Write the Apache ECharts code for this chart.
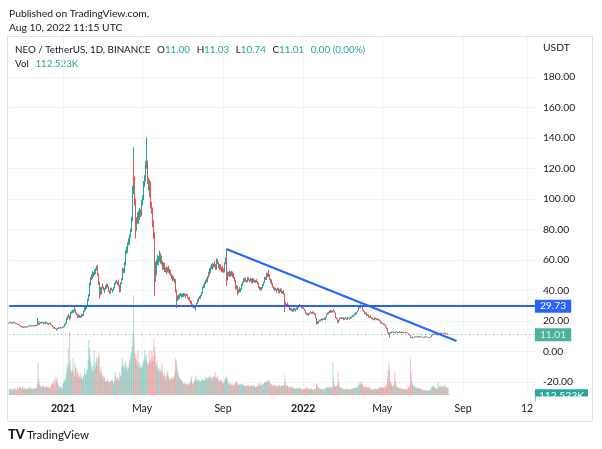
<!DOCTYPE html>
<html><head><meta charset="utf-8">
<script src="https://cdn.jsdelivr.net/npm/echarts/dist/echarts.min.js"></script>
<style>html,body{margin:0;padding:0;background:#fff}#c{width:602px;height:449px}</style>
</head><body><div id="c"></div>
<script>
// ---------- data (daily NEO/USDT, Binance) ----------
const startDate = '2020-10-11';
const axisDays = 800;               // categories on the time axis (data + empty right margin)
const firstOpen = 18.5;
const closes = [
// 2020 Oct 11-31
18.7,19.1,18.9,19.3,18.8,18.4,18.6,18.9,19.2,18.7,18.3,18.5,18.1,17.6,17.9,17.4,16.9,16.6,16.2,16.5,15.9,
// Nov
15.8,16.1,15.9,16.3,16.0,15.7,16.2,16.5,16.4,16.9,16.7,17.0,16.6,16.8,17.1,16.9,16.5,16.8,17.2,17.0,16.7,17.3,18.1,19.6,18.4,17.9,18.6,19.0,18.7,19.2,
// Dec
19.1,18.5,18.8,18.2,18.9,19.3,18.6,18.0,18.4,17.9,18.3,18.7,18.2,17.6,17.1,16.4,16.0,15.3,15.7,15.1,14.8,14.3,14.6,15.2,15.6,15.1,15.5,15.9,15.4,15.8,15.6,
// 2021 Jan
15.9,16.4,17.2,17.8,18.6,20.1,21.4,22.6,24.1,23.2,21.8,23.9,25.2,26.1,25.6,26.8,25.9,26.5,27.4,26.2,25.1,24.3,23.1,22.4,23.6,22.8,23.3,22.5,23.8,24.2,23.5,
// Feb
24.6,26.3,28.9,27.5,28.2,29.8,31.2,33.6,36.8,39.4,44.1,47.6,49.3,48.1,51.2,49.8,50.6,52.4,51.5,53.8,55.1,54.2,50.3,44.6,38.2,41.5,39.7,37.9,
// Mar
41.8,43.5,42.1,40.6,39.2,41.0,42.7,41.9,43.8,42.4,40.9,39.6,38.4,39.8,41.2,40.5,39.1,40.3,41.7,42.5,44.2,45.6,46.3,45.1,44.0,46.5,43.2,39.4,41.8,44.6,47.3,
// Apr
50.2,53.6,52.1,55.4,57.2,62.5,64.8,67.1,66.2,70.4,72.8,71.5,75.6,79.3,83.4,86.1,105.6,121.0,112.4,98.7,84.5,80.2,86.3,88.9,84.7,90.5,87.6,92.3,89.4,94.8,
// May
97.5,100.8,104.6,109.3,113.2,117.5,121.8,123.4,118.2,112.6,108.4,104.9,110.3,101.6,96.2,92.8,88.1,84.3,76.5,62.8,47.2,55.6,52.4,58.9,61.3,57.8,60.5,63.7,59.4,61.8,58.2,
// Jun
56.4,54.1,57.3,55.6,52.8,53.9,51.4,54.7,52.2,55.1,53.5,51.0,52.6,50.2,48.4,46.7,48.9,47.1,45.6,46.8,39.5,31.8,33.9,35.6,34.2,36.4,35.1,36.9,37.4,35.8,
// Jul
36.2,37.5,36.1,37.8,36.6,35.4,36.9,37.2,36.0,35.2,34.1,35.3,33.2,31.8,32.5,30.6,29.4,30.1,28.7,29.2,27.9,29.8,31.5,33.6,32.9,34.8,35.6,34.9,36.7,37.9,38.4,
// Aug
40.6,41.9,43.2,42.5,44.8,46.1,47.3,45.9,48.6,51.2,50.4,53.7,52.1,54.9,56.3,54.5,57.1,55.8,58.4,56.9,54.2,57.5,59.6,58.1,55.3,56.7,53.9,56.2,54.8,52.6,55.1,
// Sep
53.4,52.2,54.6,57.8,60.9,63.2,47.5,49.8,51.3,50.1,52.4,49.6,51.8,50.3,52.0,49.1,50.7,48.2,46.5,43.8,41.2,42.6,39.8,38.5,40.2,41.6,39.4,40.8,42.9,43.6,
// Oct
45.2,46.8,47.5,46.2,47.9,46.6,45.8,47.2,48.1,46.9,45.7,46.4,47.6,46.3,45.1,46.8,47.4,45.9,46.7,45.5,46.2,47.0,45.8,44.6,43.1,42.2,40.9,41.6,40.5,41.8,42.4,
// Nov
43.6,45.2,46.9,48.1,47.3,49.6,50.8,49.2,51.9,50.1,47.2,45.6,46.8,44.3,43.1,42.4,41.2,40.1,41.5,40.6,39.2,40.4,41.3,39.7,38.6,40.2,39.4,40.8,39.1,38.3,
// Dec
38.9,39.6,37.8,30.4,31.2,30.6,29.8,31.5,30.2,29.4,28.6,27.3,28.1,26.9,27.6,26.4,27.2,28.3,27.1,26.6,27.8,28.4,27.5,28.9,30.1,30.8,30.2,29.4,29.9,28.7,28.2,
// 2022 Jan
28.6,27.9,27.1,26.8,25.2,24.6,24.1,24.9,23.8,24.4,25.3,26.1,25.6,24.9,25.4,26.0,25.1,24.3,24.8,21.9,19.2,18.4,19.6,18.7,19.8,20.6,19.9,20.8,21.4,20.5,21.2,
// Feb
21.0,21.8,20.9,22.4,23.6,24.2,25.1,24.6,25.8,26.3,25.5,26.9,26.1,25.7,26.6,27.2,26.4,25.3,23.8,22.1,21.4,19.8,19.0,20.4,21.2,21.9,21.5,22.3,
// Mar
21.6,22.1,21.3,20.8,21.5,22.2,21.7,21.0,21.8,22.4,21.9,21.2,21.7,22.5,22.0,22.8,23.5,22.9,23.9,24.6,24.1,25.2,24.7,25.8,26.6,27.9,28.6,29.4,28.7,30.1,29.6,
// Apr
28.4,27.2,26.3,25.8,24.6,25.3,24.1,23.5,24.2,23.1,22.4,22.9,23.4,22.2,21.5,21.9,21.1,20.7,21.6,22.0,21.3,20.9,21.4,20.6,21.2,20.8,20.1,19.4,18.6,19.1,
// May
18.7,18.2,17.6,18.1,17.3,16.8,16.2,15.1,13.0,12.4,11.2,10.6,11.8,12.5,12.2,12.9,12.6,12.3,12.8,12.4,12.1,12.7,12.9,12.5,12.2,12.6,13.0,12.7,12.4,12.8,12.3,
// Jun
12.6,12.2,12.5,12.8,12.4,12.7,12.3,12.1,11.8,11.4,10.9,10.6,9.6,9.3,9.1,9.5,8.9,9.2,9.6,9.4,9.8,9.5,9.7,9.3,9.6,9.9,9.4,9.6,9.7,9.5,
// Jul
9.4,9.2,9.5,9.8,9.3,9.6,9.4,9.7,9.5,9.2,9.4,9.1,9.3,9.6,10.2,10.8,11.3,10.9,11.5,11.2,11.8,11.4,11.0,10.7,11.3,11.6,11.1,11.7,12.1,11.8,12.2,
// Aug 1-10
11.9,11.6,11.8,12.2,11.9,12.1,11.7,11.4,11.00,11.01
];
const highs = [
19.0,19.4,19.3,19.6,19.4,18.9,18.9,19.2,19.5,19.3,18.8,18.7,18.6,18.2,18.1,18.0,17.5,17.1,16.8,16.8,16.6,
16.1,16.3,16.2,16.5,16.4,16.1,16.4,16.7,16.7,17.1,17.0,17.2,17.1,17.0,17.3,17.3,17.0,17.0,17.4,17.4,17.1,17.5,18.4,22.0,19.9,18.6,18.9,19.4,19.2,19.5,
19.6,19.3,19.0,19.0,19.2,19.8,19.4,18.8,18.7,18.6,18.5,18.9,18.9,18.4,17.8,17.3,16.7,16.2,15.9,15.9,15.3,15.0,14.9,15.5,15.9,15.8,15.7,16.2,16.1,15.9,16.0,
16.2,16.7,17.6,18.2,19.1,20.6,22.0,23.3,24.9,24.6,23.6,24.4,25.9,26.7,26.5,27.5,27.1,27.2,29.4,27.8,26.5,25.6,24.6,23.5,24.3,23.9,23.8,23.6,24.4,24.8,24.5,
25.2,26.9,29.6,29.5,28.9,30.4,31.8,34.5,37.6,40.6,45.3,48.9,50.8,50.4,52.6,52.0,51.8,53.7,53.2,54.6,56.3,56.7,54.9,51.2,45.8,42.6,42.3,40.4,
42.5,44.6,44.0,42.6,41.0,41.6,43.4,43.1,44.5,44.3,42.9,41.3,40.0,40.4,41.9,41.8,40.9,40.8,42.3,43.1,44.9,46.4,47.1,46.8,45.6,47.2,46.9,43.7,42.3,45.3,48.1,
51.4,54.8,54.6,56.3,58.7,63.8,66.2,68.9,68.4,71.6,74.5,74.0,76.8,80.7,85.2,88.4,108.9,134.0,125.6,114.8,100.2,86.7,88.0,91.2,90.1,92.4,91.8,94.0,93.5,96.6,
99.6,102.5,106.3,111.8,115.6,119.2,124.8,140.5,125.3,119.6,114.2,109.7,112.8,111.5,103.4,98.1,94.5,89.6,86.2,78.4,64.3,58.9,57.1,60.3,63.4,62.6,62.1,66.2,64.5,63.2,62.9,
59.3,57.6,58.4,58.1,56.2,55.0,54.6,55.8,55.3,56.2,55.9,54.2,53.4,53.1,50.9,49.2,49.8,49.5,47.8,47.6,47.4,40.6,35.2,36.8,36.1,37.2,36.9,37.8,38.6,37.9,
36.9,38.1,37.8,38.4,38.2,36.9,37.5,37.9,37.6,36.4,35.6,35.9,35.7,33.6,33.1,32.9,31.0,30.7,30.5,29.8,29.6,30.3,32.1,34.2,34.1,35.4,36.3,36.0,37.2,38.5,39.1,
41.5,42.6,44.1,43.9,45.6,46.9,48.2,47.9,49.4,52.3,52.1,54.6,54.3,55.8,57.4,57.0,57.9,57.6,59.2,59.1,57.4,58.3,61.0,60.4,58.7,57.6,57.3,56.9,57.1,55.3,55.9,
56.2,54.5,55.3,58.6,61.8,67.2,63.8,51.0,52.4,52.1,53.1,53.0,52.5,52.6,52.8,52.4,51.3,51.2,48.9,47.1,44.5,43.4,43.1,40.6,40.9,42.3,42.1,41.5,43.6,44.5,
45.9,47.5,48.3,48.0,48.6,48.4,47.0,47.9,48.9,48.6,47.4,46.9,48.3,47.9,46.8,47.3,48.2,47.8,47.2,47.1,46.8,47.6,47.5,46.2,45.1,43.6,42.7,42.2,41.9,42.3,43.0,
44.2,45.9,47.6,48.9,48.8,50.3,51.7,51.4,53.4,52.6,50.8,47.9,47.5,47.2,44.9,43.7,42.8,41.6,42.0,41.9,41.1,40.9,41.9,41.8,40.2,40.8,40.6,41.4,41.2,39.6,
39.6,40.3,40.1,38.2,32.4,31.9,31.1,31.9,32.0,30.7,29.8,28.9,28.6,28.4,27.9,27.8,27.6,28.7,28.6,27.4,28.2,28.9,28.7,29.3,30.6,31.3,31.0,30.5,30.2,30.1,29.0,
28.9,28.8,28.2,27.5,27.0,25.6,24.9,25.2,25.1,24.7,25.6,26.4,26.3,25.8,25.7,26.3,26.2,25.3,25.0,24.9,22.1,19.6,19.9,19.8,20.1,20.9,20.8,21.1,21.7,21.5,21.5,
21.6,22.1,22.0,22.7,23.9,24.6,25.5,25.3,26.1,26.7,26.4,27.2,27.1,26.4,26.9,28.0,27.5,26.6,25.5,24.0,22.4,21.6,20.1,20.7,21.5,22.3,22.2,22.6,
22.6,22.4,22.3,21.5,21.7,22.5,22.4,21.9,22.0,22.7,22.6,22.1,21.9,22.8,22.7,23.0,23.8,23.6,24.2,24.9,24.8,25.5,25.4,26.1,26.9,28.3,29.0,29.9,29.7,30.9,30.4,
30.0,28.9,27.6,26.7,26.1,25.6,25.5,24.4,24.5,24.4,23.3,23.1,23.7,23.6,22.5,22.2,22.0,21.4,21.8,22.3,22.2,21.5,21.7,21.6,21.4,21.5,21.0,20.3,19.6,19.4,
19.3,18.9,18.4,18.4,18.3,17.5,17.0,16.4,15.3,13.4,12.8,11.6,12.1,12.8,12.7,13.1,13.1,12.7,13.0,12.9,12.6,12.9,13.2,13.0,12.6,12.8,13.3,13.2,12.8,13.0,12.9,
12.8,12.7,12.6,12.9,12.9,12.8,12.8,12.4,12.2,11.9,11.5,11.0,10.7,9.8,9.5,9.7,9.6,9.3,9.8,9.7,9.9,9.9,9.8,9.8,9.7,10.1,10.0,9.7,9.9,9.8,
9.7,9.5,9.6,9.9,9.9,9.7,9.7,9.8,9.8,9.6,9.5,9.5,9.4,9.7,10.4,11.0,11.6,11.4,11.7,11.6,12.0,11.9,11.5,11.2,11.5,11.8,11.7,11.9,12.4,12.2,12.4,
12.3,12.0,11.9,12.4,12.3,12.2,12.2,11.8,11.5,11.03
];
const lows = [
18.3,18.6,18.7,18.8,18.6,18.2,18.3,18.4,18.8,18.5,18.1,18.2,17.9,17.4,17.5,17.2,16.7,16.4,16.0,16.1,15.6,
15.5,15.6,15.7,15.7,15.8,15.5,15.6,16.0,16.2,16.3,16.5,16.5,16.4,16.5,16.7,16.8,16.3,16.4,16.7,16.8,16.5,16.6,17.1,17.9,17.6,17.4,17.7,18.4,18.4,18.6,
18.8,18.2,18.3,18.0,18.0,18.7,18.4,17.7,17.8,17.6,17.7,18.1,18.0,17.4,16.9,16.1,15.8,15.0,15.1,14.8,14.6,13.9,13.6,14.4,15.0,15.0,14.9,15.3,15.2,15.2,15.4,
15.4,15.7,16.2,16.9,17.5,18.3,19.8,20.9,22.1,22.6,20.4,21.5,23.5,24.8,25.0,25.3,25.5,25.6,26.2,25.8,24.7,23.8,22.7,21.8,22.1,22.3,22.5,22.1,22.3,23.4,23.1,
23.2,24.3,26.0,27.0,27.1,27.8,29.3,30.8,33.0,36.1,38.9,43.2,46.9,47.2,47.6,49.1,49.2,50.1,50.8,51.0,53.2,52.8,49.6,43.8,34.6,37.4,38.9,36.8,
37.4,41.2,41.6,40.1,38.6,38.7,40.6,41.3,41.5,42.0,40.5,39.2,37.9,38.0,39.5,40.1,38.7,38.8,39.9,41.3,42.1,43.8,45.0,44.7,43.5,43.6,42.8,38.6,39.1,41.4,44.2,
46.8,49.6,51.2,51.5,54.6,56.3,61.4,63.9,64.8,65.5,69.4,70.2,70.6,74.5,78.4,82.1,85.3,103.2,108.1,95.6,80.3,74.0,79.1,84.9,83.6,83.9,86.4,86.9,88.1,88.6,
93.1,95.8,99.2,103.1,107.9,111.4,116.2,119.6,115.1,109.8,105.6,101.3,103.2,99.8,93.7,90.2,86.4,81.5,73.9,55.2,36.2,45.8,50.1,50.6,56.7,56.4,56.9,58.8,58.1,57.6,56.9,
55.7,53.4,53.6,54.9,52.1,51.9,50.6,50.9,51.8,51.6,52.8,50.4,50.3,49.6,47.6,45.9,46.2,46.5,44.8,44.9,38.7,28.5,30.9,33.2,33.6,33.8,34.5,34.7,36.1,35.2,
35.3,35.8,35.7,35.8,36.2,34.9,35.1,36.5,35.6,34.8,33.6,33.8,32.8,31.4,31.3,30.2,28.9,29.0,28.3,28.4,26.8,27.6,29.5,31.2,32.4,32.6,34.4,34.5,34.6,36.3,37.4,
37.9,39.8,41.4,41.9,42.0,44.1,45.5,45.2,45.3,48.0,49.6,49.8,51.6,51.5,54.1,53.8,53.9,55.0,55.2,56.3,53.6,53.7,56.9,57.4,54.6,54.8,53.2,53.4,54.2,51.9,52.1,
52.6,51.5,51.8,54.1,57.2,60.3,43.0,46.4,49.1,49.4,49.6,48.9,49.0,49.6,49.8,48.5,48.6,47.6,45.8,43.1,40.6,40.8,39.2,37.0,38.1,39.7,38.8,39.0,40.3,42.2,
43.1,44.7,46.2,45.8,45.7,46.1,45.3,45.3,46.8,46.5,45.4,45.1,46.0,46.0,44.7,44.8,46.3,45.5,45.4,45.1,45.0,45.7,45.3,44.1,42.6,41.6,40.4,40.3,40.0,40.1,41.3,
41.9,43.1,44.8,46.4,46.8,46.9,49.1,48.7,48.8,49.5,46.8,45.1,45.0,43.8,42.6,41.9,40.7,39.6,39.7,40.2,38.8,38.7,40.0,39.2,38.1,38.2,38.9,39.0,38.7,37.8,
37.9,38.4,37.2,25.8,29.1,29.9,29.2,29.5,29.8,28.9,28.2,27.0,27.0,26.5,26.6,26.0,26.1,27.0,26.8,26.2,26.4,27.5,27.2,27.3,28.6,29.8,29.9,29.1,29.1,28.4,27.9,
27.9,27.7,26.8,26.5,24.9,24.3,23.8,23.9,23.5,23.6,24.2,25.1,25.3,24.6,24.7,25.2,24.9,24.1,24.1,21.7,18.8,17.6,18.2,18.3,18.5,19.6,19.7,19.8,20.6,20.3,20.3,
20.7,20.8,20.7,20.8,22.2,23.4,24.0,24.4,24.5,25.6,25.3,25.4,25.9,25.5,25.5,26.4,26.2,25.1,23.6,21.9,21.1,19.6,18.6,18.9,20.2,21.0,21.3,21.3,
21.4,21.4,21.1,20.5,20.6,21.3,21.5,20.8,20.8,21.6,21.7,21.0,21.0,21.5,21.8,21.8,22.6,22.7,22.7,23.7,23.9,23.9,24.5,24.5,25.6,26.4,27.6,28.3,28.5,28.5,29.3,
28.1,26.9,26.0,25.4,24.3,24.4,23.9,23.2,23.3,22.9,22.1,22.2,22.7,22.0,21.3,21.3,20.9,20.5,20.5,21.4,21.1,20.7,20.7,20.4,20.4,20.6,19.9,19.2,18.4,18.4,
18.5,18.0,17.4,17.4,17.1,16.6,15.9,14.8,12.7,12.1,10.9,9.1,10.4,11.6,12.0,12.1,12.4,12.1,12.2,12.2,11.9,12.0,12.5,12.4,12.0,12.1,12.4,12.5,12.2,12.3,12.2,
12.1,12.1,12.0,12.4,12.3,12.3,12.2,12.0,11.7,11.3,10.8,10.5,9.4,9.0,8.9,9.0,8.6,8.8,9.1,9.3,9.3,9.4,9.4,9.2,9.2,9.5,9.3,9.3,9.5,9.4,
9.2,9.1,9.1,9.4,9.2,9.2,9.3,9.3,9.4,9.1,9.1,9.0,9.0,9.2,9.5,10.1,10.6,10.8,10.8,11.0,11.1,11.3,10.9,10.5,10.6,11.2,11.0,11.0,11.6,11.7,11.7,
11.8,11.4,11.5,11.7,11.8,11.8,11.6,11.3,10.9,10.74
];
// daily volume, thousands of NEO
const volumes = [
620,540,480,710,560,450,520,640,580,690,530,470,610,780,560,690,820,740,660,590,870,
760,580,640,720,590,530,610,680,550,820,640,590,720,610,680,560,640,590,710,620,660,780,1150,3300,1650,1120,980,870,760,820,
1040,880,760,820,690,940,780,850,720,790,660,710,840,960,1080,1250,1120,1480,980,1840,1260,1530,1790,1180,940,820,760,890,720,810,680,
1120,1260,1540,1380,1690,2150,2640,3050,4720,2870,6250,3380,2460,2160,2540,3700,2240,1860,3220,2780,2700,1920,2340,2160,1740,1930,1680,2210,1860,1640,1580,
1840,2160,2650,1980,2140,2520,2380,3450,5500,4700,3920,3260,2840,2350,2910,2480,4500,3150,2670,3320,3800,2960,3640,4120,3860,2480,2210,2800,
2150,1880,1640,1920,1760,1420,1290,1380,1540,1460,1320,1180,1410,1260,1380,1520,1440,1290,1160,1350,2300,1870,1640,1520,1780,1430,1680,2240,1960,1850,2800,
3650,3120,2870,2640,3040,3380,2760,2920,2450,2680,2960,3420,3980,3540,4270,4860,6100,10000,5800,4200,3640,3960,3480,2980,4500,3260,2780,3140,2650,2880,
2760,3040,3320,3580,4500,3900,3450,4060,3280,2950,3120,4420,3560,3240,3780,4500,3860,3420,5700,4830,3960,3140,2850,3460,2780,2540,2320,2680,2460,2250,3200,
2480,2160,1940,2230,1780,1560,1890,2120,2450,1960,1720,1540,1480,1630,1820,1750,1580,1690,1920,2240,3700,3560,2980,2420,2150,1860,1720,1640,1580,1490,
1380,1220,1060,1150,1240,1130,1080,1020,1160,940,1070,1120,1260,1530,1800,1240,1080,1150,1320,1460,1680,1940,1560,1420,1350,1580,1460,1290,1370,1520,1440,
1620,1480,1560,1390,1640,1820,1710,1540,1760,1680,1840,1960,1720,1580,1860,1640,1720,1920,1780,2300,1860,1640,1720,1950,1480,1360,1520,1420,1380,1560,1290,
1240,1120,1360,1520,1680,1760,1800,1460,1180,1050,1230,1140,1080,980,1160,1020,940,1010,1120,1240,1380,1150,1260,1080,960,1040,1130,960,1070,1140,
1060,980,920,870,1010,940,860,920,1050,960,880,820,910,1020,930,870,960,1040,880,820,790,860,910,840,980,1120,1240,1060,950,1010,1120,
1080,1160,1240,1320,1190,1380,1240,1420,1500,1280,1340,1160,1020,1080,940,910,980,1030,960,870,920,840,960,880,910,1020,890,860,940,920,
960,880,1040,2000,1240,920,860,1010,880,760,690,820,760,910,780,690,640,720,660,590,620,710,680,640,590,760,680,620,570,640,590,
520,580,610,640,760,690,720,580,640,560,620,590,670,610,550,480,520,640,610,580,1150,1060,820,780,640,690,610,580,650,560,520,
560,620,590,680,740,720,810,760,690,780,740,860,720,690,3300,1680,940,860,780,920,880,1060,2300,1240,860,780,720,680,
640,690,580,620,560,540,610,580,650,620,570,540,490,560,610,580,640,690,620,720,680,640,760,820,780,940,1080,1260,1040,1380,1120,
1040,920,860,780,820,740,860,780,690,740,820,660,620,580,610,560,520,580,610,640,560,590,540,610,680,620,720,840,780,690,
740,680,720,640,820,780,940,1080,1640,2400,3200,2600,1460,1240,1080,980,860,940,1020,2300,1460,1120,880,760,820,690,640,720,680,610,660,
620,580,640,560,520,590,540,610,680,760,820,1040,3800,2200,1460,1120,980,860,920,780,720,690,640,760,710,680,620,590,640,580,
560,480,420,510,460,440,520,480,430,390,460,520,480,560,740,860,920,780,840,720,680,640,560,620,1300,860,740,980,820,760,880,
920,780,840,1060,860,720,680,760,820,112.523
];
const tickDates  = ['2021-01-01','2021-05-01','2021-09-01','2022-01-01','2022-05-01','2022-09-01','2022-12-07'];
const tickLabels = ['2021','May','Sep','2022','May','Sep','12'];
const yearTicks  = ['2021','2022'];
const priceMin = -20, priceMax = 180, priceStep = 20;
const supportLevel = 29.73;
const lastPrice = 11.01;
const trendDates  = ['2021-09-06','2022-08-22'];
const trendValues = [67.2, 6.9];
const legendSymbol = 'NEO / TetherUS, 1D, BINANCE';
const legendKeys = ['O','H','L','C'];
const legendValues = ['11.00','11.03','10.74','11.01'];
const legendChange = '0.00 (0.00%)';
const volumeText = '112.523K';
const publishLines = ['Published on TradingView.com,', 'Aug 10, 2022 11:15 UTC'];

if (closes.length !== highs.length || closes.length !== lows.length || closes.length !== volumes.length) {
  throw new Error('length mismatch ' + closes.length + ' ' + highs.length + ' ' + lows.length + ' ' + volumes.length);
}

// ---------- build ----------
const dates = [];
const t0 = Date.parse(startDate + 'T00:00:00Z');
for (let i = 0; i < axisDays; i++) dates.push(new Date(t0 + i * 86400000).toISOString().slice(0, 10));

const UP = '#26a69a', DOWN = '#ef5350';
const candles = [], volBars = [];
for (let i = 0; i < closes.length; i++) {
  const o = i === 0 ? firstOpen : closes[i - 1];
  candles.push([o, closes[i], lows[i], highs[i]]);
  const up = closes[i] >= o;
  volBars.push({ value: volumes[i], itemStyle: { color: up ? 'rgba(38,166,154,0.36)' : 'rgba(239,83,80,0.36)' } });
}
const tickSet = new Set(tickDates);
const tickMap = {}; tickDates.forEach((d, i) => tickMap[d] = tickLabels[i]);

const FONT = 'Lato, "Open Sans", sans-serif';
const TXT = '#131722';
const gl = 9.1, gr = 67.1;

const legendRich = '{n|' + legendSymbol + '}  ' +
  legendKeys.map((k, i) => '{k|' + k + '}{v|' + legendValues[i] + '}').join('  ') +
  '  {v|' + legendChange + '}';

const chart = echarts.init(document.getElementById('c'), null, { renderer: 'canvas' });
chart.setOption({
  animation: false,
  backgroundColor: '#ffffff',
  textStyle: { fontFamily: FONT },
  grid: [
    { left: gl, right: gr, top: 37, bottom: 54 },
    { left: gl, right: gr, top: 77, bottom: 67 },
    { left: gl, right: gr, top: 255, bottom: 54 }
  ],
  xAxis: [
    { type: 'category', gridIndex: 0, data: dates, boundaryGap: false,
      axisLine: { show: false }, axisTick: { show: false },
      axisLabel: { interval: (i, v) => tickSet.has(v), margin: 8, color: TXT, fontSize: 10.5, fontFamily: FONT,
        formatter: v => yearTicks.includes(tickMap[v]) ? '{b|' + tickMap[v] + '}' : tickMap[v],
        rich: { b: { fontWeight: 'bold', fontSize: 10.5, color: TXT, fontFamily: FONT } } },
      splitLine: { show: true, interval: (i, v) => tickSet.has(v), lineStyle: { color: '#f0f3fa', width: 1 } } },
    { type: 'category', gridIndex: 1, data: dates, boundaryGap: false, show: false },
    { type: 'category', gridIndex: 2, data: dates, boundaryGap: false, show: false }
  ],
  yAxis: [
    { type: 'value', gridIndex: 0, min: 0, max: 1, show: false },
    { type: 'value', gridIndex: 1, position: 'right', min: priceMin, max: priceMax, interval: priceStep,
      axisLine: { show: false }, axisTick: { show: false },
      axisLabel: { margin: 8, color: TXT, fontSize: 10.3, fontFamily: FONT, formatter: v => v.toFixed(2) },
      splitLine: { show: true, lineStyle: { color: '#f0f3fa', width: 1 } } },
    { type: 'value', gridIndex: 2, min: 0, max: 14000, show: false }
  ],
  series: [
    { type: 'bar', xAxisIndex: 2, yAxisIndex: 2, data: volBars, barWidth: 1, z: 1, silent: true,
      markLine: { silent: true, symbol: ['none', 'none'], animation: false, clip: false,
        data: [{ yAxis: volumes[volumes.length - 1],
          lineStyle: { color: 'rgba(0,0,0,0)', width: 1 },
          label: { show: true, position: 'end', distance: 0, formatter: volumeText, color: '#fff',
            backgroundColor: '#26a69a', padding: [2, 4, 1, 4], fontSize: 10.3, fontFamily: FONT, offset: [0, 2] } }] } },
    { type: 'candlestick', xAxisIndex: 1, yAxisIndex: 1, data: candles, large: false, barWidth: 1, z: 3, silent: true,
      itemStyle: { color: UP, color0: DOWN, borderColor: UP, borderColor0: DOWN, borderWidth: 1 },
      markLine: { silent: true, symbol: ['none', 'none'], animation: false,
        data: [
          { yAxis: supportLevel, lineStyle: { color: '#2962ff', width: 2, type: 'solid' },
            label: { show: true, position: 'end', distance: 0, formatter: supportLevel.toFixed(2), color: '#fff',
              backgroundColor: '#2962ff', padding: [2, 5, 1, 5], fontSize: 10.3, fontFamily: FONT } },
          { yAxis: lastPrice, lineStyle: { color: '#26a69a', width: 1, type: [1, 3], opacity: 0.8 },
            label: { show: true, position: 'end', distance: 0, formatter: lastPrice.toFixed(2), color: '#fff',
              backgroundColor: '#1f9c82', padding: [2, 5, 1, 5], fontSize: 10.3, fontFamily: FONT } },
          [ { coord: [trendDates[0], trendValues[0]], lineStyle: { color: '#2962ff', width: 2, type: 'solid' }, label: { show: false } },
            { coord: [trendDates[1], trendValues[1]] } ]
        ] } }
  ],
  graphic: [
    { type: 'text', x: 9, y: 14, style: { text: publishLines[0], font: '10.3px ' + FONT, fill: TXT, verticalAlign: 'middle' } },
    { type: 'text', x: 9, y: 28, style: { text: publishLines[1], font: '10.3px ' + FONT, fill: TXT, verticalAlign: 'middle' } },
    { type: 'rect', shape: { x: 7.5, y: 36.5, width: 585, height: 385 }, style: { fill: 'none', stroke: '#e0e3eb', lineWidth: 1 }, z: 0 },
    { type: 'text', x: 15, y: 50, style: { text: legendRich, verticalAlign: 'middle',
        rich: { n: { fontSize: 9.8, fontFamily: FONT, fill: TXT, color: TXT },
                k: { fontSize: 9.8, fontFamily: FONT, fill: TXT, color: TXT },
                v: { fontSize: 9.8, fontFamily: FONT, fill: '#26a69a', color: '#26a69a' } } } },
    { type: 'text', x: 15, y: 64, style: { text: '{k|Vol}  {v|' + volumeText + '}', verticalAlign: 'middle',
        rich: { k: { fontSize: 9.8, fontFamily: FONT, fill: TXT, color: TXT },
                v: { fontSize: 9.8, fontFamily: FONT, fill: '#26a69a', color: '#26a69a' } } } },
    { type: 'text', x: 543, y: 48, style: { text: 'USDT', font: '10.3px ' + FONT, fill: TXT, verticalAlign: 'middle' } },
    { type: 'rect', shape: { x: 535.5, y: 396.5, width: 56.5, height: 24.5 }, style: { fill: '#fff' }, z: 100 },
    { type: 'text', x: 8, y: 435, style: { text: 'TV', font: '900 13px ' + FONT, fill: TXT, verticalAlign: 'middle' } },
    { type: 'text', x: 27, y: 435, style: { text: 'TradingView', font: '11.5px ' + FONT, fill: TXT, verticalAlign: 'middle' } }
  ]
});
</script>
</body></html>
